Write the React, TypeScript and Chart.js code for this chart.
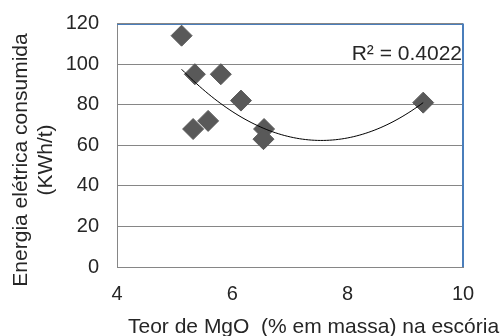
import { useEffect, useRef } from 'react';
import { Chart, registerables } from 'chart.js';

Chart.register(...registerables);

// MgO content in slag (% mass) and electric energy consumed (kWh/t)
const mgoContent = [5.12, 5.35, 5.8, 6.15, 5.32, 5.58, 6.55, 6.54, 9.31];
const energyConsumed = [114, 95, 95, 82, 68, 72, 68, 63, 81];

const xMin = 4;
const xMax = 10;
const xStep = 2;
const yMin = 0;
const yMax = 120;
const yStep = 20;

const rSquaredLabel = 'R² = 0.4022';
const xTitle = 'Teor de MgO  (% em massa) na escória';
const yTitleLines = ['Energia elétrica consumida', '(KWh/t)'];

const FONT = '"Liberation Sans", Arial, sans-serif';
const TEXT = '#262626';
const GRID = '#868686';
const FRAME_BLUE = '#4a7ebb';
const MARKER = '#595959';

// Least-squares fit of y = a + b·x + c·x²
function quadraticFit(xs: number[], ys: number[]) {
  let s0 = 0, s1 = 0, s2 = 0, s3 = 0, s4 = 0, t0 = 0, t1 = 0, t2 = 0;
  xs.forEach((x, i) => {
    const y = ys[i];
    s0 += 1; s1 += x; s2 += x * x; s3 += x ** 3; s4 += x ** 4;
    t0 += y; t1 += x * y; t2 += x * x * y;
  });
  const det3 = (m: number[][]) =>
    m[0][0] * (m[1][1] * m[2][2] - m[1][2] * m[2][1]) -
    m[0][1] * (m[1][0] * m[2][2] - m[1][2] * m[2][0]) +
    m[0][2] * (m[1][0] * m[2][1] - m[1][1] * m[2][0]);
  const M = [[s0, s1, s2], [s1, s2, s3], [s2, s3, s4]];
  const T = [t0, t1, t2];
  const D = det3(M);
  const col = (k: number) => M.map((row, r) => row.map((v, c) => (c === k ? T[r] : v)));
  return [det3(col(0)) / D, det3(col(1)) / D, det3(col(2)) / D];
}

function trendPoints() {
  const [a, b, c] = quadraticFit(mgoContent, energyConsumed);
  const lo = Math.min(...mgoContent);
  const hi = Math.max(...mgoContent);
  const n = 80;
  const pts: { x: number; y: number }[] = [];
  for (let i = 0; i <= n; i++) {
    const x = lo + ((hi - lo) * i) / n;
    pts.push({ x, y: a + b * x + c * x * x });
  }
  return pts;
}

const decorations = {
  id: 'decorations',
  afterDraw(chart: Chart) {
    const { ctx, chartArea } = chart;
    const { left, right, top, bottom } = chartArea;
    ctx.save();
    // top and right frame edges
    ctx.strokeStyle = FRAME_BLUE;
    ctx.lineWidth = 1;
    ctx.beginPath();
    ctx.moveTo(left, Math.round(top) + 0.5);
    ctx.lineTo(right, Math.round(top) + 0.5);
    ctx.stroke();
    ctx.lineWidth = 2;
    ctx.beginPath();
    ctx.moveTo(right, top);
    ctx.lineTo(right, bottom);
    ctx.stroke();

    ctx.fillStyle = TEXT;
    ctx.font = `21px ${FONT}`;
    // R² annotation
    ctx.textAlign = 'right';
    ctx.textBaseline = 'alphabetic';
    ctx.fillText(rSquaredLabel, right - 1, 60);

    // x-axis title
    ctx.textAlign = 'left';
    ctx.fillText(xTitle, 128, 333);

    // y-axis title, two rotated lines
    ctx.textAlign = 'center';
    ctx.textBaseline = 'middle';
    const lineX = [21, 46];
    yTitleLines.forEach((line, i) => {
      ctx.save();
      ctx.translate(lineX[i], 160);
      ctx.rotate(-Math.PI / 2);
      ctx.fillText(line, 0, 0);
      ctx.restore();
    });
    ctx.restore();
  },
};

export default function App() {
  const canvasRef = useRef<HTMLCanvasElement>(null);

  useEffect(() => {
    const canvas = canvasRef.current;
    if (!canvas) return;
    const chart = new Chart(canvas, {
      type: 'scatter',
      data: {
        datasets: [
          {
            type: 'line',
            data: trendPoints(),
            borderColor: '#000000',
            borderWidth: 1,
            pointRadius: 0,
            fill: false,
            tension: 0,
          },
          {
            data: mgoContent.map((x, i) => ({ x, y: energyConsumed[i] })),
            pointStyle: 'rectRot',
            pointRadius: 10.5,
            backgroundColor: MARKER,
            borderColor: MARKER,
            borderWidth: 1,
          },
        ],
      },
      options: {
        responsive: false,
        animation: false,
        devicePixelRatio: 1,
        layout: { padding: { top: 23.5, right: 39, left: 0, bottom: 0 } },
        plugins: {
          legend: { display: false },
          tooltip: { enabled: false },
        },
        scales: {
          x: {
            type: 'linear',
            min: xMin,
            max: xMax,
            ticks: {
              stepSize: xStep,
              padding: 15,
              color: TEXT,
              font: { family: FONT, size: 20 },
            },
            grid: { display: false, drawTicks: false },
            border: { display: true, color: GRID, width: 1 },
            afterFit: (scale: any) => {
              scale.height = 69;
              scale.paddingLeft = 0;
              scale.paddingRight = 0;
            },
          },
          y: {
            type: 'linear',
            min: yMin,
            max: yMax,
            ticks: {
              stepSize: yStep,
              padding: 18,
              color: TEXT,
              font: { family: FONT, size: 20 },
            },
            grid: { color: GRID, lineWidth: 1, drawTicks: false },
            border: { display: true, color: GRID, width: 1 },
            afterFit: (scale: any) => {
              scale.width = 117;
              scale.paddingTop = 0;
              scale.paddingBottom = 0;
            },
          },
        },
      },
      plugins: [decorations],
    });
    return () => chart.destroy();
  }, []);

  return (
    <div style={{ position: 'absolute', left: 0, top: 0, width: 502, height: 336, background: '#ffffff' }}>
      <canvas ref={canvasRef} width={502} height={336} />
    </div>
  );
}
